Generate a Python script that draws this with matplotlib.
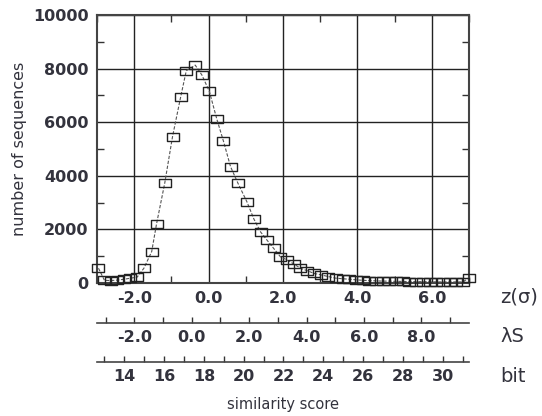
"""
Score distribution of database search: number of sequences vs similarity score,
with z(sigma), lambda*S and bit scales underneath.
"""

import numpy as np
import matplotlib.pyplot as plt
from matplotlib.path import Path
from matplotlib.ticker import MultipleLocator, FuncFormatter

# %% Data
z_score = [-2.96, -2.80, -2.62, -2.45, -2.27, -2.10, -1.92, -1.74, -1.53, -1.40,
           -1.18, -0.97, -0.75, -0.60, -0.36, -0.18, 0.02, 0.22, 0.40, 0.59,
           0.79, 1.03, 1.22, 1.40, 1.57, 1.75, 1.93, 2.11, 2.29, 2.47,
           2.65, 2.83, 3.03, 3.22, 3.42, 3.60, 3.78, 3.96, 4.14, 4.32,
           4.50, 4.68, 4.86, 5.04, 5.22, 5.40, 5.58, 5.76, 5.94, 6.12,
           6.30, 6.48, 6.66, 6.84, 7.00]
n_seq = [550, 100, 90, 110, 140, 180, 220, 550, 1170, 2200,
         3720, 5460, 6950, 7920, 8130, 7760, 7150, 6120, 5290, 4340,
         3720, 3030, 2380, 1900, 1600, 1290, 980, 860, 710, 550,
         460, 360, 300, 240, 180, 160, 140, 120, 100, 90,
         80, 70, 70, 60, 60, 50, 50, 50, 50, 40,
         40, 40, 40, 40, 200]

z_labels = [-2, 0, 2, 4, 6]
lam_labels = [-2, 0, 2, 4, 6, 8]
bit_labels = [14, 16, 18, 20, 22, 24, 26, 28, 30]

# %% Plot
W, H = 542, 416
txt = '#33333d'
plt.rcParams['font.family'] = ['DejaVu Sans']

fig = plt.figure(figsize=(W / 100, H / 100), dpi=100)

L, R, T, B = 97, 469, 15, 283
ax = fig.add_axes([L / W, 1 - B / H, (R - L) / W, (B - T) / H])

box = Path([(-1.35, -1), (1.35, -1), (1.35, 1), (-1.35, 1), (-1.35, -1)],
           [Path.MOVETO, Path.LINETO, Path.LINETO, Path.LINETO, Path.CLOSEPOLY])
ax.plot(z_score, n_seq, color='#555555', lw=0.8, ls=(0, (3, 1.5)),
        marker=box, ms=8.3, mfc='none', mec='#222222', mew=1.0, clip_on=False, zorder=3)

ax.set_xlim(-3, 7)
ax.set_ylim(0, 10000)
ax.xaxis.set_major_locator(MultipleLocator(2))
ax.xaxis.set_minor_locator(MultipleLocator(1))
ax.yaxis.set_major_locator(MultipleLocator(2000))
ax.yaxis.set_minor_locator(MultipleLocator(1000))
ax.xaxis.set_major_formatter(FuncFormatter(lambda v, p: f'{v:.1f}' if v in z_labels else ''))
ax.yaxis.set_major_formatter(FuncFormatter(lambda v, p: f'{v:.0f}'))
ax.grid(True, which='major', color='#222222', lw=1.0)
ax.tick_params(which='major', length=0, labelsize=11.5, labelcolor=txt, pad=6)
ax.tick_params(which='minor', direction='in', length=5, width=1.0, color='#333333',
               top=True, right=True, bottom=True, left=True)
for lab in ax.get_xticklabels() + ax.get_yticklabels():
    lab.set_fontweight('bold')
for s in ax.spines.values():
    s.set_color('#444444')
    s.set_linewidth(1.5)

ax.set_ylabel('number of sequences', fontsize=11.5, color=txt, labelpad=4)


# Extra scales below the main axes
def scale_axis(y_px, lim, labels, fmt):
    a = fig.add_axes([L / W, 1 - y_px / H, (R - L) / W, 0.0001])
    a.set_xlim(*lim)
    a.set_yticks([])
    for side in ['top', 'left', 'right']:
        a.spines[side].set_visible(False)
    a.spines['bottom'].set_color('#444444')
    a.spines['bottom'].set_linewidth(1.2)
    a.xaxis.set_major_locator(MultipleLocator(1))
    a.xaxis.set_major_formatter(FuncFormatter(lambda v, p: fmt(v) if round(v) in labels else ''))
    a.tick_params(axis='x', direction='in', length=4, width=1.0, color='#333333',
                  labelsize=11.5, labelcolor=txt, pad=5)
    for lab in a.get_xticklabels():
        lab.set_fontweight('bold')
    return a


scale_axis(322.7, (-3.30, 9.66), lam_labels, lambda v: f'{v:.1f}')
scale_axis(361.7, (12.63, 31.32), bit_labels, lambda v: f'{v:.0f}')

fig.text(500 / W, 1 - 297 / H, 'z(σ)', fontsize=14, color=txt, va='center', ha='left')
fig.text(500 / W, 1 - 337 / H, 'λS', fontsize=14, color=txt, va='center', ha='left')
fig.text(500 / W, 1 - 376 / H, 'bit', fontsize=14, color=txt, va='center', ha='left')
fig.text(283 / W, 1 - 405 / H, 'similarity score', fontsize=10.5, color=txt,
         va='center', ha='center')

fig.savefig('out.png', dpi=100)
